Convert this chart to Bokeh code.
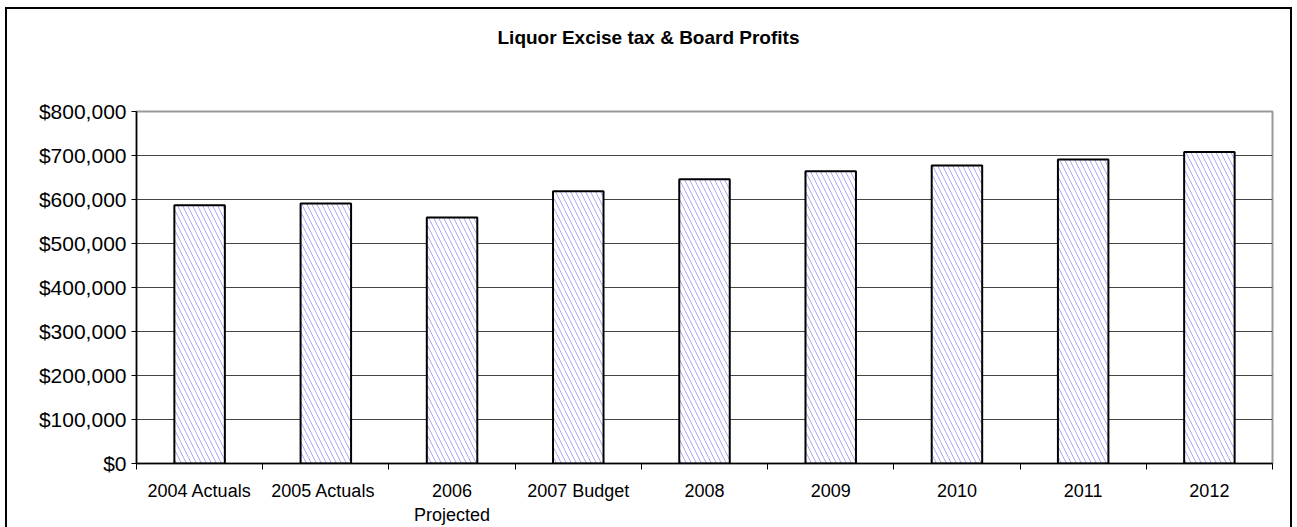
from bokeh.plotting import figure
from bokeh.models import FixedTicker, NumeralTickFormatter, Range1d, Div
from bokeh.layouts import column
from bokeh.embed import file_html
from bokeh.resources import INLINE

title_text = "Liquor Excise tax &amp; Board Profits"
categories = ["2004 Actuals", "2005  Actuals", "2006\nProjected", "2007 Budget",
              "2008", "2009", "2010", "2011", "2012"]
values = [587000, 591000, 559000, 619000, 646000, 664000, 677000, 691000, 708000]
y_ticks = [0, 100000, 200000, 300000, 400000, 500000, 600000, 700000, 800000]

positions = [i + 0.5 for i in range(len(categories))]
boundaries = list(range(len(categories) + 1))

FONT = "Liberation Sans"

title_html = ('<div style="width:1283px;padding-top:18px;text-align:center;'
              'font-family:\'Liberation Sans\';font-size:19px;font-weight:bold;'
              'line-height:22px;color:black;">' + title_text + '</div>')
title = Div(text=title_html, width=1283, height=72, margin=0)

p = figure(width=1283, height=446, output_backend="svg", toolbar_location=None,
           x_range=Range1d(0, len(categories)), y_range=Range1d(0, y_ticks[-1]),
           min_border_left=129, min_border_right=18, min_border_top=30,
           min_border_bottom=63, margin=0)

p.vbar(x=positions, top=values, width=0.4, fill_color="white",
       line_color="black", line_width=2,
       hatch_pattern="\\", hatch_color="#a8a8f8", hatch_scale=10, hatch_weight=1)

p.outline_line_color = "#999999"
p.outline_line_width = 2

p.xgrid.grid_line_color = None
p.ygrid.ticker = FixedTicker(ticks=y_ticks)
p.ygrid.grid_line_color = "#444444"
p.ygrid.grid_line_width = 1.2

p.yaxis.ticker = FixedTicker(ticks=y_ticks)
p.yaxis.formatter = NumeralTickFormatter(format="$0,0")
p.yaxis.major_label_text_font = FONT
p.yaxis.major_label_text_font_size = "21px"
p.yaxis.major_label_text_color = "black"
p.yaxis.major_tick_in = 0
p.yaxis.major_tick_out = 5
p.yaxis.major_tick_line_color = "black"
p.yaxis.minor_tick_line_color = None
p.yaxis.axis_line_color = "black"
p.yaxis.axis_line_width = 1.5
p.yaxis.major_label_standoff = 5

p.xaxis.ticker = FixedTicker(ticks=positions, minor_ticks=boundaries)
p.xaxis.major_label_overrides = {pos: lab for pos, lab in zip(positions, categories)}
p.xaxis.major_tick_line_color = None
p.xaxis.major_tick_in = 0
p.xaxis.major_tick_out = 0
p.xaxis.minor_tick_line_color = "black"
p.xaxis.minor_tick_in = 0
p.xaxis.minor_tick_out = 6
p.xaxis.major_label_text_font = FONT
p.xaxis.major_label_text_font_size = "18px"
p.xaxis.major_label_text_color = "black"
p.xaxis.axis_line_color = "black"
p.xaxis.axis_line_width = 1.5
p.xaxis.major_label_standoff = 11

layout = column(title, p, spacing=0, margin=(7, 0, 0, 5),
                styles={"border": "2px solid black"})

open("out.html", "w").write(file_html(layout, INLINE))
